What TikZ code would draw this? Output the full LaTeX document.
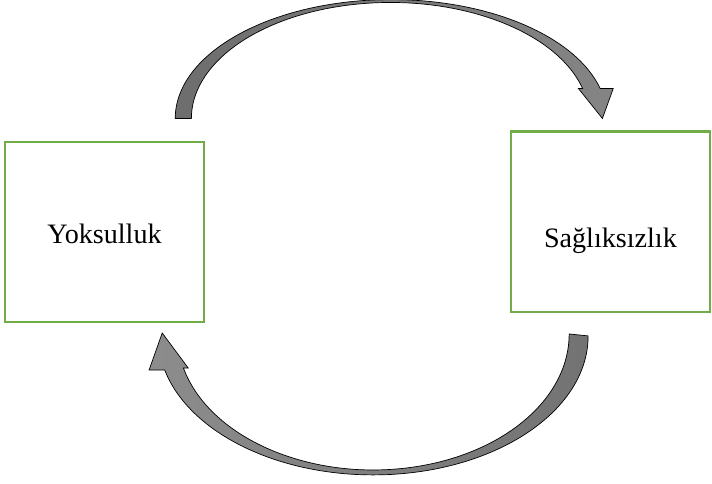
\documentclass[tikz,border=0pt]{standalone}
\usepackage{fontspec}
\setmainfont{Liberation Serif}
\usetikzlibrary{calc}
\definecolor{boxgreen}{HTML}{70AD47}
\tikzset{
  box/.style={draw=boxgreen, line width=1.7pt, rectangle, inner sep=0pt,
    minimum width=4.975cm, minimum height=4.5cm,
    font=\fontsize{20}{24}\selectfont},
  bigarrow/.style={draw=black, line width=0.5pt, line join=miter}
}
\begin{document}
\begin{tikzpicture}[x=0.025cm, y=0.025cm]
    \useasboundingbox (0,0) rectangle (712,484);
    \node[box, text height=0.6cm, text depth=0pt] (yok) at (104.5,252.2) {Yoksulluk};
    \node[box, text height=1.42cm, text depth=0.15cm] (sag) at (610.4,262.3) {Sağlıksızlık};
    \coordinate (t1) at ($(yok.north east)+(-30,22)$);
    \coordinate (h1) at ($(sag.north)+(-8,12)$);
    \coordinate (t2) at ($(sag.south east)+(-123,-23)$);
    \coordinate (h2) at ($(yok.south east)+(-43,-10)$);
    \shade[bigarrow, left color=black!57, right color=black!48] (t1)
      arc[start angle=180, end angle=14.6, x radius=216, y radius=119]
      -- ++(13,0) -- (h1) -- ++(-24,30) -- ++(4.2,0)
      arc[start angle=15, end angle=180, x radius=199, y radius=116] -- cycle;
    \shade[bigarrow, left color=black!45, right color=black!55] (t2)
      arc[start angle=0, end angle=-165.8, x radius=215, y radius=139]
      -- ++(-15.6,0) -- (h2) -- ++(26,-35) -- ++(-4.8,0)
      arc[start angle=-165.5, end angle=0, x radius=196, y radius=136] -- cycle;
  \end{tikzpicture}
\end{document}
